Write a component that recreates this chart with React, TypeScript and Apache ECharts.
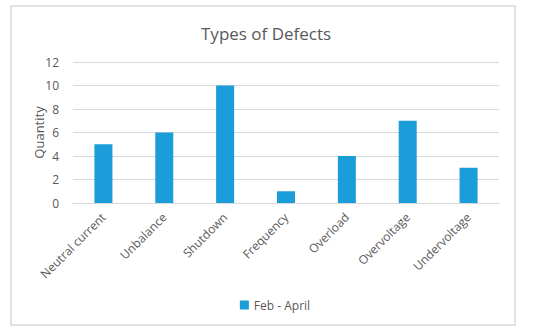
import React, { useEffect, useRef } from "react";
import * as echarts from "echarts";

const categories = ["Neutral current", "Unbalance", "Shutdown", "Frequency", "Overload", "Overvoltage", "Undervoltage"];
const values = [5, 6, 10, 1, 4, 7, 3];
const seriesName = "Feb - April";
const titleText = "Types of Defects";
const yAxisName = "Quantity";

const FONT = "'Open Sans', 'Liberation Sans', sans-serif";
const TXT = "#595959";

export default function App() {
  const ref = useRef<HTMLDivElement>(null);
  useEffect(() => {
    const chart = echarts.init(ref.current!, null, { renderer: "svg" });
    chart.setOption({
      animation: false,
      backgroundColor: "#ffffff",
      textStyle: { fontFamily: FONT },
      title: {
        text: titleText,
        left: 196,
        top: 20,
        textStyle: { fontFamily: FONT, fontSize: 17, fontWeight: "normal", color: TXT },
      },
      graphic: [
        {
          type: "rect",
          shape: { x: 11, y: 6, width: 504, height: 319 },
          style: { fill: "none", stroke: "#d9d9d9", lineWidth: 1.5 },
          silent: true,
        },
      ],
      legend: {
        data: [seriesName],
        left: "center",
        top: 294,
        itemWidth: 9,
        itemHeight: 9,
        itemGap: 6,
        icon: "rect",
        textStyle: { fontFamily: FONT, fontSize: 12, color: TXT },
      },
      grid: { left: 73, right: 51, top: 62, bottom: 129, containLabel: false },
      xAxis: {
        type: "category",
        data: categories,
        axisLine: { show: true, lineStyle: { color: "#d9d9d9", width: 1 } },
        axisTick: { show: false },
        axisLabel: {
          rotate: 45,
          interval: 0,
          margin: 12,
          fontFamily: FONT,
          fontSize: 12,
          color: TXT,
        },
      },
      yAxis: {
        type: "value",
        min: 0,
        max: 12,
        interval: 2,
        name: yAxisName,
        nameLocation: "middle",
        nameGap: 28,
        nameRotate: 90,
        nameMoveOverlap: false,
        nameTextStyle: { fontFamily: FONT, fontSize: 13, color: TXT },
        axisLine: { show: false },
        axisTick: { show: false },
        axisLabel: { fontFamily: FONT, fontSize: 12, color: TXT, margin: 14 },
        splitLine: { lineStyle: { color: "#d9d9d9", width: 1 } },
      },
      series: [
        {
          name: seriesName,
          type: "bar",
          data: values,
          barWidth: 18,
          itemStyle: { color: "#1a9dd9" },
        },
      ],
    });
    return () => chart.dispose();
  }, []);
  return <div ref={ref} style={{ position: "absolute", left: 0, top: 0, width: 550, height: 332 }} />;
}
